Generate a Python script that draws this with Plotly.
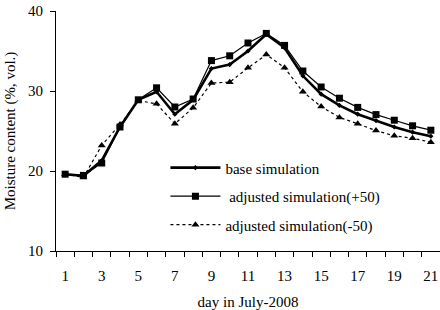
import plotly.graph_objects as go

days = list(range(1, 22))
base = [19.6, 19.4, 21.3, 25.5, 28.9, 29.9, 27.1, 28.9, 32.8, 33.3, 35.0, 37.1,
        35.4, 31.9, 29.6, 28.2, 27.1, 26.3, 25.5, 24.85, 24.35]
plus50 = [19.6, 19.45, 21.0, 25.5, 28.9, 30.4, 28.0, 29.0, 33.8, 34.4, 36.0, 37.2,
          35.7, 32.5, 30.5, 29.1, 27.95, 27.05, 26.35, 25.65, 25.1]
minus50 = [19.6, 19.2, 23.2, 25.8, 28.8, 28.4, 25.9, 27.9, 31.0, 31.1, 32.9, 34.55,
           32.9, 29.9, 28.05, 26.7, 25.9, 25.05, 24.4, 24.1, 23.6]

xtick_vals = list(range(1, 22, 2))
xtick_text = [str(v) for v in xtick_vals]
ytick_vals = [10, 20, 30, 40]

font = "Liberation Serif, Times New Roman, serif"

fig = go.Figure()
fig.add_trace(go.Scatter(
    x=days, y=base, name="base simulation", legendgroup="a",
    mode="lines+markers",
    line=dict(color="black", width=2.6),
    marker=dict(symbol="diamond", size=4, color="black"),
))
fig.add_trace(go.Scatter(
    x=days, y=plus50, name="\u00a0adjusted simulation(+50)", legendgroup="b",
    mode="lines+markers",
    line=dict(color="black", width=1.2),
    marker=dict(symbol="square", size=7, color="black"),
))
fig.add_trace(go.Scatter(
    x=days, y=minus50, name="adjusted simulation(-50)", legendgroup="c",
    mode="lines+markers",
    line=dict(color="black", width=1.2, dash="3px,3px"),
    marker=dict(symbol="triangle-up", size=7, color="black"),
))

fig.update_layout(
    width=440, height=310,
    margin=dict(l=56, r=0, t=11, b=57),
    paper_bgcolor="white", plot_bgcolor="white",
    font=dict(family=font, size=15, color="black"),
    showlegend=True,
    legend=dict(
        x=0.285, y=0.415, xanchor="left", yanchor="top",
        bgcolor="rgba(0,0,0,0)", borderwidth=0,
        font=dict(family=font, size=15, color="black"),
        itemwidth=50, tracegroupgap=6,
    ),
    xaxis=dict(
        range=[0.5, 21.5], showgrid=False, zeroline=False,
        showline=True, linecolor="black", linewidth=1,
        tickmode="array", tickvals=xtick_vals, ticktext=xtick_text,
        ticks="outside", ticklen=11, tickcolor="rgba(0,0,0,0)",
        minor=dict(ticks="outside", ticklen=5, tickcolor="black",
                   tick0=0.5, dtick=1, showgrid=False),
        title=dict(text="day in July-2008", standoff=15,
                   font=dict(family=font, size=15)),
        tickfont=dict(family=font, size=15),
    ),
    yaxis=dict(
        range=[10, 40], showgrid=False, zeroline=False,
        showline=True, linecolor="black", linewidth=1,
        tickmode="array", tickvals=ytick_vals,
        ticks="outside", ticklen=5, tickcolor="black",
        ticklabelstandoff=4,
        title=dict(text="Moisture content (%, vol.)", standoff=8,
                   font=dict(family=font, size=15)),
        tickfont=dict(family=font, size=15),
    ),
)

fig.write_html("out.html")
